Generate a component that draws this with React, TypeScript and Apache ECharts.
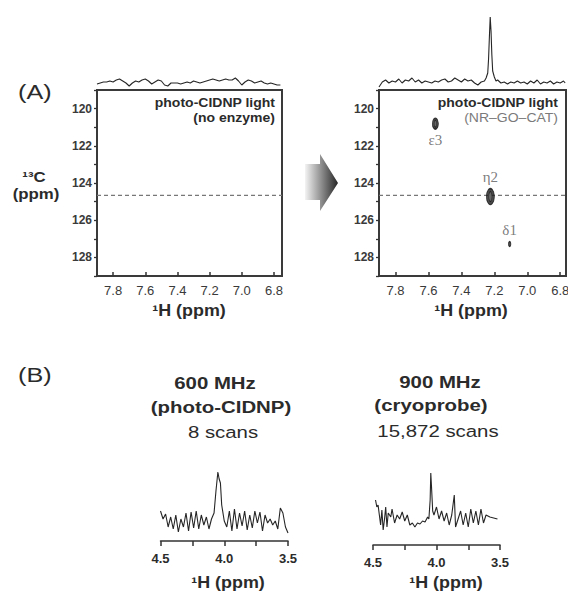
import React, { useEffect, useRef } from "react";
import * as echarts from "echarts";

// ---------- DATA ----------
// 2D panels: 1H (ppm) x 13C (ppm)
const hTickValues = [6.8, 7.0, 7.2, 7.4, 7.6, 7.8];
const cLabelValues = [120, 122, 124, 126, 128];
const dashedC13 = 124.67;

// Cross peaks in right panel (NR-GO-CAT)
const peakNames = ["ε3", "η2", "δ1"];
const peakH = [7.558, 7.224, 7.107];
const peakC = [120.81, 124.73, 127.28];

// 1D projection above left panel [ppm, intensity]
const topLeftTrace: number[][] = [
  [7.9, 5], [7.88, 6], [7.86, 7], [7.84, 7], [7.82, 8], [7.8, 7], [7.78, 9], [7.76, 10], [7.74, 8], [7.72, 6],
  [7.7, 3], [7.68, 6], [7.66, 8], [7.64, 7], [7.62, 9], [7.6, 10], [7.58, 8], [7.56, 5], [7.54, 7], [7.52, 9],
  [7.5, 8], [7.48, 4], [7.46, 3], [7.44, 6], [7.42, 6], [7.4, 6], [7.38, 5], [7.36, 6], [7.34, 7], [7.32, 6],
  [7.3, 8], [7.28, 7], [7.26, 6], [7.24, 7], [7.22, 8], [7.2, 9], [7.18, 10], [7.16, 9], [7.14, 8], [7.12, 9],
  [7.1, 10], [7.08, 9], [7.06, 9], [7.04, 11], [7.02, 8], [7.0, 4], [6.98, 7], [6.96, 9], [6.94, 8], [6.92, 6],
  [6.9, 7], [6.88, 8], [6.86, 6], [6.84, 5], [6.82, 6], [6.8, 5], [6.78, 4], [6.76, 4],
];

// 1D projection above right panel [ppm, intensity]
const topRightTrace: number[][] = [
  [7.9, 2], [7.88, 7], [7.86, 9], [7.84, 6], [7.82, 8], [7.8, 7], [7.78, 10], [7.76, 6], [7.74, 9], [7.72, 8],
  [7.7, 11], [7.68, 7], [7.66, 9], [7.64, 6], [7.62, 8], [7.6, 7], [7.58, 6], [7.56, 8], [7.54, 7], [7.52, 9],
  [7.5, 10], [7.48, 7], [7.46, 8], [7.44, 11], [7.42, 9], [7.4, 7], [7.38, 10], [7.36, 8], [7.34, 9], [7.32, 6],
  [7.3, 4], [7.28, 7], [7.26, 8], [7.25, 11], [7.24, 16], [7.235, 30], [7.23, 52], [7.225, 72], [7.22, 58],
  [7.215, 34], [7.21, 18], [7.2, 12], [7.19, 8], [7.18, 9], [7.16, 6], [7.14, 7], [7.12, 5], [7.1, 7],
  [7.08, 6], [7.06, 8], [7.04, 6], [7.02, 7], [7.0, 5], [6.98, 8], [6.96, 6], [6.94, 9], [6.92, 5], [6.9, 7],
  [6.88, 6], [6.86, 8], [6.84, 5], [6.82, 7], [6.8, 6], [6.78, 8], [6.77, 6],
];

// (B) 1D spectra, 4.5 - 3.5 ppm
const spec600: number[][] = [
  [4.5, 30], [4.48, 22], [4.46, 27], [4.44, 14], [4.42, 24], [4.4, 12], [4.38, 26], [4.36, 9], [4.34, 22],
  [4.32, 14], [4.3, 28], [4.28, 10], [4.26, 29], [4.24, 13], [4.22, 30], [4.2, 12], [4.18, 26], [4.16, 16],
  [4.14, 24], [4.12, 12], [4.1, 22], [4.08, 28], [4.065, 50], [4.05, 69], [4.04, 62], [4.03, 58], [4.02, 36],
  [4.0, 20], [3.98, 14], [3.96, 30], [3.94, 10], [3.92, 32], [3.9, 12], [3.88, 28], [3.86, 15], [3.84, 30],
  [3.82, 11], [3.8, 26], [3.78, 13], [3.76, 30], [3.74, 18], [3.72, 29], [3.7, 10], [3.68, 26], [3.66, 18],
  [3.64, 22], [3.62, 16], [3.6, 20], [3.58, 12], [3.56, 33], [3.54, 28], [3.52, 14], [3.5, 8],
];
const spec900: number[][] = [
  [4.48, 45], [4.47, 38], [4.46, 40], [4.45, 30], [4.44, 20], [4.43, 35], [4.42, 15], [4.41, 25], [4.4, 38],
  [4.39, 18], [4.38, 32], [4.36, 28], [4.35, 36], [4.33, 22], [4.31, 30], [4.29, 26], [4.27, 33], [4.25, 24],
  [4.23, 30], [4.21, 20], [4.19, 22], [4.17, 18], [4.15, 22], [4.13, 21], [4.11, 24], [4.09, 23], [4.07, 28],
  [4.06, 26], [4.05, 45], [4.045, 72], [4.04, 60], [4.03, 34], [4.02, 30], [4.0, 38], [3.98, 26], [3.96, 34],
  [3.94, 24], [3.92, 32], [3.9, 20], [3.88, 30], [3.86, 50], [3.85, 18], [3.83, 26], [3.81, 34], [3.79, 20],
  [3.77, 32], [3.75, 18], [3.73, 36], [3.71, 22], [3.69, 34], [3.67, 20], [3.65, 36], [3.63, 22], [3.61, 30],
  [3.58, 28], [3.52, 26],
];

// ---------- STYLE ----------
const SANS = '"Liberation Sans", Arial, sans-serif';
const SERIF = '"Liberation Serif", "DejaVu Serif", serif';
const INK = "#2b2b2b";
const contourSizes = [[6, 11], [8, 16], [2.5, 5]];
const labelPlacement = [
  { position: "bottom", distance: 3 },
  { position: "top", distance: 3 },
  { position: "top", distance: 3 },
];

function txt(text: string, x: number, y: number, size: number, opts: any = {}) {
  return {
    type: "text",
    x,
    y,
    scaleX: opts.scaleX ?? 1.12,
    silent: true,
    style: {
      text,
      fill: opts.fill ?? INK,
      font: `${opts.bold === false ? "normal" : "bold"} ${size}px ${SANS}`,
      textAlign: opts.align ?? "center",
      textVerticalAlign: "middle",
    },
  };
}

function twoDX(gridIndex: number, min: number, max: number) {
  return {
    gridIndex,
    type: "value",
    min,
    max,
    inverse: true,
    axisLine: { show: false, onZero: false },
    axisTick: {
      show: true,
      inside: true,
      length: 4,
      customValues: hTickValues,
      lineStyle: { color: "#333", width: 1.5 },
    },
    axisLabel: {
      customValues: hTickValues,
      formatter: (v: number) => v.toFixed(1),
      color: "#3a3a3a",
      fontSize: 13,
      fontFamily: SANS,
      margin: 8,
      showMinLabel: true,
      showMaxLabel: true,
      hideOverlap: false,
    },
    splitLine: { show: false },
  };
}

function twoDY(gridIndex: number) {
  return {
    gridIndex,
    type: "value",
    min: 119,
    max: 129,
    interval: 1,
    inverse: true,
    axisLine: { show: false, onZero: false },
    axisTick: { show: true, length: 3, lineStyle: { color: "#333", width: 1.3 } },
    axisLabel: {
      formatter: (v: number) => (cLabelValues.includes(v) ? String(v) : ""),
      color: "#3a3a3a",
      fontSize: 12,
      fontWeight: "bold",
      fontFamily: SANS,
      margin: 5,
    },
    splitLine: { show: false },
  };
}

function hiddenX(gridIndex: number, min: number, max: number) {
  return { gridIndex, type: "value", min, max, inverse: true, show: false };
}
function hiddenY(gridIndex: number, min: number, max: number) {
  return { gridIndex, type: "value", min, max, show: false };
}

function specX(gridIndex: number) {
  return {
    gridIndex,
    type: "value",
    min: 3.5,
    max: 4.5,
    interval: 0.25,
    inverse: true,
    axisLine: { show: true, onZero: false, lineStyle: { color: "#333", width: 1.5 } },
    axisTick: { show: true, length: 5, lineStyle: { color: "#333", width: 1.5 } },
    axisLabel: {
      formatter: (v: number) => (Math.abs(v * 2 - Math.round(v * 2)) < 1e-6 ? v.toFixed(1) : ""),
      color: "#2b2b2b",
      fontSize: 13,
      fontWeight: "bold",
      fontFamily: SANS,
      margin: 11,
      showMinLabel: true,
      showMaxLabel: true,
    },
    splitLine: { show: false },
  };
}

function trace(idx: number, data: number[][]) {
  return {
    type: "line",
    xAxisIndex: idx,
    yAxisIndex: idx,
    data,
    showSymbol: false,
    symbol: "none",
    silent: true,
    clip: false,
    lineStyle: { color: "#262626", width: 1.1 },
  };
}

function dashed(idx: number, x0: number, x1: number) {
  return {
    type: "line",
    xAxisIndex: idx,
    yAxisIndex: idx,
    data: [[x0, dashedC13], [x1, dashedC13]],
    showSymbol: false,
    symbol: "none",
    silent: true,
    lineStyle: { color: "#777", width: 1.2, type: [4, 3] },
  };
}

const peakLabelStyle = { fontFamily: SERIF, fontSize: 15, color: "#5a5a5a" };

const peaksOuter = peakH.map((h, i) => ({
  value: [h, peakC[i]],
  name: peakNames[i],
  symbolSize: contourSizes[i],
  label: { ...labelPlacement[i], ...peakLabelStyle },
}));
const peaksInner = peakH.map((h, i) => ({
  value: [h, peakC[i]],
  symbolSize: [contourSizes[i][0] * 0.4, contourSizes[i][1] * 0.62],
}));

const gridBase = { outerBoundsMode: "none", containLabel: false };

const option: any = {
  animation: false,
  backgroundColor: "#ffffff",
  grid: [
    { ...gridBase, left: 97, top: 90, width: 185, height: 186, show: true, borderColor: "#3a3a3a", borderWidth: 2, backgroundColor: "transparent" },
    { ...gridBase, left: 97, top: 55, width: 185, height: 34 },
    { ...gridBase, left: 379, top: 90, width: 187, height: 186, show: true, borderColor: "#3a3a3a", borderWidth: 2, backgroundColor: "transparent" },
    { ...gridBase, left: 379, top: 10, width: 187, height: 79 },
    { ...gridBase, left: 160.5, top: 465, width: 127.5, height: 76 },
    { ...gridBase, left: 373, top: 469, width: 127, height: 76 },
  ],
  xAxis: [
    twoDX(0, 6.75, 7.9),
    hiddenX(1, 6.75, 7.9),
    twoDX(2, 6.765, 7.9),
    hiddenX(3, 6.765, 7.9),
    specX(4),
    specX(5),
  ],
  yAxis: [
    twoDY(0),
    hiddenY(1, 0, 34),
    twoDY(2),
    hiddenY(3, 0, 79),
    hiddenY(4, 0, 76),
    hiddenY(5, 0, 76),
  ],
  series: [
    dashed(0, 7.9, 6.75),
    trace(1, topLeftTrace),
    dashed(2, 7.9, 6.765),
    trace(3, topRightTrace),
    {
      type: "scatter",
      xAxisIndex: 2,
      yAxisIndex: 2,
      symbol: "circle",
      data: peaksOuter,
      silent: true,
      itemStyle: { color: "#1e1e1e", borderColor: "#111", borderWidth: 1 },
      label: {
        show: true,
        formatter: (p: any) => p.name,
        ...peakLabelStyle,
      },
      z: 3,
    },
    {
      type: "scatter",
      xAxisIndex: 2,
      yAxisIndex: 2,
      symbol: "circle",
      data: peaksInner.slice(0, 2),
      silent: true,
      itemStyle: { color: "#6e6e6e", borderColor: "#1a1a1a", borderWidth: 0.8 },
      z: 4,
    },
    trace(4, spec600),
    trace(5, spec900),
  ],
  graphic: [
    {
      type: "polygon",
      silent: true,
      shape: {
        points: [
          [305, 164], [320, 164], [320, 154], [338, 183], [320, 211], [320, 200], [305, 200],
        ],
      },
      style: {
        fill: {
          type: "linear",
          x: 0,
          y: 0,
          x2: 1,
          y2: 0,
          colorStops: [
            { offset: 0, color: "#f4f4f4" },
            { offset: 1, color: "#262626" },
          ],
        },
      },
    },
    txt("(A)", 18, 92, 21, { bold: false, align: "left", scaleX: 1.2 }),
    txt("¹³C", 34, 177, 15),
    txt("(ppm)", 36, 194, 15),
    txt("photo-CIDNP light", 275, 103, 12.5, { align: "right" }),
    txt("(no enzyme)", 275, 118, 12.5, { align: "right" }),
    txt("photo-CIDNP light", 558, 103, 12.5, { align: "right" }),
    txt("(NR–GO–CAT)", 558, 118, 12.5, { align: "right", fill: "#7a7a7a", bold: false }),
    txt("¹H (ppm)", 189, 311, 16),
    txt("¹H (ppm)", 471, 311, 16),
    txt("(B)", 18, 375, 21, { bold: false, align: "left", scaleX: 1.2 }),
    txt("600 MHz", 215, 383, 17, { scaleX: 1.2 }),
    txt("(photo-CIDNP)", 221, 407, 17, { scaleX: 1.2 }),
    txt("8 scans", 223, 432, 17, { bold: false, scaleX: 1.2 }),
    txt("900 MHz", 440, 382, 17, { scaleX: 1.2 }),
    txt("(cryoprobe)", 431, 405, 17, { scaleX: 1.2 }),
    txt("15,872 scans", 438, 431, 17, { bold: false, scaleX: 1.2 }),
    txt("¹H (ppm)", 228, 583, 16),
    txt("¹H (ppm)", 446, 583, 16),
  ],
};

export default function App() {
  const ref = useRef<HTMLDivElement>(null);
  useEffect(() => {
    if (!ref.current) return;
    const chart = echarts.init(ref.current, null, { renderer: "svg" });
    chart.setOption(option);
    return () => chart.dispose();
  }, []);
  return (
    <div
      ref={ref}
      style={{ position: "fixed", left: 0, top: 0, width: 568, height: 592, background: "#fff" }}
    />
  );
}
